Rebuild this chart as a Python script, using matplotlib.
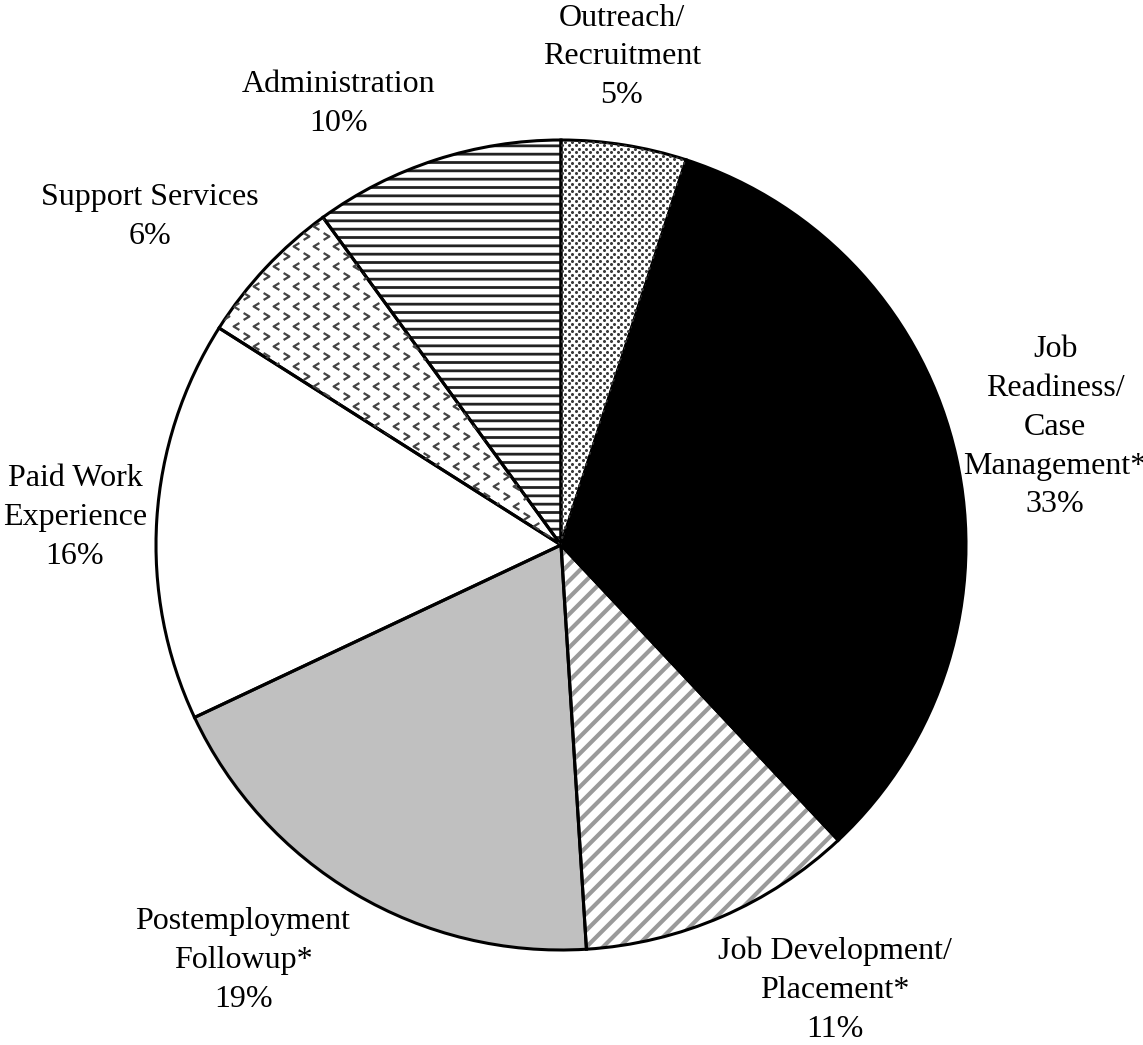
import matplotlib.pyplot as plt
import numpy as np
from matplotlib.path import Path

plt.rcParams['font.family'] = ['Liberation Serif', 'DejaVu Serif']

labels = ['Outreach/\nRecruitment', 'Job\nReadiness/\nCase\nManagement*',
          'Job Development/\nPlacement*', 'Postemployment\nFollowup*',
          'Paid Work\nExperience', 'Support Services', 'Administration']
shares = [5, 33, 11, 19, 16, 6, 10]

faces = ['white', 'black', 'white', '#c0c0c0', 'white', 'white', 'white']
hatches = [None, None, '//', None, None, None, '--']
hatch_colors = ['white', 'black', '#9a9a9a', '#c0c0c0', 'white', 'white', '#222222']
hatch_widths = [1.0, 1.0, 3.0, 1.0, 1.0, 1.0, 2.0]

# where each label sits, in pie-radius units
label_xy = [(0.15, 1.205), (1.22, 0.291), (0.677, -1.099), (-0.785, -1.025),
            (-1.2, 0.067), (-1.015, 0.81), (-0.548, 1.089)]

W, H = 1143, 1045
cx, cy, R = 561, 545, 405

fig = plt.figure(figsize=(W / 100, H / 100), dpi=100)
ax = fig.add_axes([0, 0, 1, 1])

# fills and hatches first, no outline
fill_wedges, _ = ax.pie(shares, startangle=90, counterclock=False, radius=1,
                        colors=faces, wedgeprops=dict(linewidth=0))
for w, h, hc, hw in zip(fill_wedges, hatches, hatch_colors, hatch_widths):
    w.set_edgecolor(hc)
    if h:
        w.set_hatch(h)
        if hasattr(w, 'set_hatch_linewidth'):
            w.set_hatch_linewidth(hw)

# staggered dot texture for outreach
dstep = 7 / R
dx, dy = np.meshgrid(np.arange(-0.05, 0.4, dstep), np.arange(-0.05, 1.05, dstep))
for off in (0, dstep / 2):
    ln, = ax.plot(dx.ravel() + off, dy.ravel() + off, ls='none', marker='o', ms=2.2,
                  mfc='#3a3a3a', mec='none')
    ln.set_clip_path(fill_wedges[0])

# chevron texture for the support services slice
step = 20 / R
gx, gy = np.meshgrid(np.arange(-1.0, 0.1, step), np.arange(-0.1, 1.0, step))
left = Path([(0.5, 0.6), (-0.5, 0), (0.5, -0.6)], [Path.MOVETO, Path.LINETO, Path.LINETO])
right = Path([(-0.5, 0.6), (0.5, 0), (-0.5, -0.6)], [Path.MOVETO, Path.LINETO, Path.LINETO])
for mk, off in [(left, 0), (right, step / 2)]:
    ln, = ax.plot(gx.ravel() + off, gy.ravel() + off, ls='none', marker=mk, ms=5,
                  mfc='none', mec='#444444', mew=1.6)
    ln.set_clip_path(fill_wedges[5])

# outlines on top
ax.pie(shares, startangle=90, counterclock=False, radius=1,
       wedgeprops=dict(fill=False, edgecolor='black', linewidth=2.2))

for lab, val, (x, y) in zip(labels, shares, label_xy):
    ax.text(x, y, f'{lab}\n{val}%', ha='center', va='center', fontsize=23,
            linespacing=1.45)

# pie() resets the limits, so set them afterwards
ax.set_aspect('auto')
ax.set_xlim(-cx / R, (W - cx) / R)
ax.set_ylim(-(H - cy) / R, cy / R)
ax.axis('off')

fig.savefig('out.png', dpi=100)
